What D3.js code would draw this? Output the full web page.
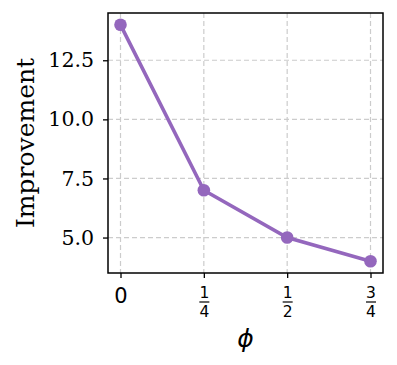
<!DOCTYPE html>
<html>
<head>
<meta charset="utf-8">
<script src="https://cdn.jsdelivr.net/npm/d3@7"></script>
<style>
  body { margin: 0; background: #fff; }
</style>
</head>
<body>
<div id="chart"></div>
<script>
// data
var phiValues = [0, 0.25, 0.5, 0.75];
var improvement = [14, 7, 5, 4];
var xTickLabels = [{num: null, den: null, txt: "0"}, {num: "1", den: "4"}, {num: "1", den: "2"}, {num: "3", den: "4"}];
var yTicks = [5.0, 7.5, 10.0, 12.5];

var width = 397, height = 365;
var margin = {top: 13, right: 14, bottom: 92, left: 108};
var innerW = width - margin.left - margin.right;
var innerH = height - margin.top - margin.bottom;

var svg = d3.select("#chart").append("svg")
    .attr("width", width)
    .attr("height", height);

var g = svg.append("g")
    .attr("transform", "translate(" + margin.left + "," + margin.top + ")");

//matplotlib style 5% margins
var xPad = 0.05 * (d3.max(phiValues) - d3.min(phiValues));
var yPad = 0.05 * (d3.max(improvement) - d3.min(improvement));
var x = d3.scaleLinear()
    .domain([d3.min(phiValues) - xPad, d3.max(phiValues) + xPad])
    .range([0, innerW]);
var y = d3.scaleLinear()
    .domain([d3.min(improvement) - yPad, d3.max(improvement) + yPad])
    .range([innerH, 0]);

// grid
g.append("g").selectAll("line").data(phiValues).enter().append("line")
    .attr("x1", d => x(d)).attr("x2", d => x(d))
    .attr("y1", 0).attr("y2", innerH)
    .attr("stroke", "#cccccc").attr("stroke-width", 1.2)
    .attr("stroke-dasharray", "5,3");
g.append("g").selectAll("line").data(yTicks).enter().append("line")
    .attr("y1", d => y(d)).attr("y2", d => y(d))
    .attr("x1", 0).attr("x2", innerW)
    .attr("stroke", "#cccccc").attr("stroke-width", 1.2)
    .attr("stroke-dasharray", "5,3");

// y axis
var yAxis = d3.axisLeft(y).tickValues(yTicks).tickFormat(d3.format(".1f"))
    .tickSize(5).tickPadding(9);
var yg = g.append("g").call(yAxis);
yg.select(".domain").remove();
yg.selectAll(".tick line").attr("stroke", "#000").attr("stroke-width", 1.3);
yg.selectAll(".tick text")
    .style("font-family", "DejaVu Serif")
    .style("font-size", "20.5px")
    .attr("fill", "#000");

// x axis, labels done by hand for the fractions
var xAxis = d3.axisBottom(x).tickValues(phiValues).tickFormat("").tickSize(5);
var xg = g.append("g").attr("transform", "translate(0," + innerH + ")").call(xAxis);
xg.select(".domain").remove();
xg.selectAll(".tick line").attr("stroke", "#000").attr("stroke-width", 1.3);

xg.selectAll(".tick").each(function(d, i){
    var t = d3.select(this);
    var lab = xTickLabels[i];
    if (lab.num == null) {
        t.append("text").attr("y", 22.5).attr("dy", "0.35em")
            .attr("text-anchor", "middle").attr("fill", "#000")
            .style("font-family", "DejaVu Sans").style("font-size", "21px")
            .text(lab.txt);
    } else {
        t.append("text").attr("y", 19.5).attr("dy", "0.35em")
            .attr("text-anchor", "middle").attr("fill", "#000")
            .style("font-family", "DejaVu Sans").style("font-size", "15.5px")
            .text(lab.num);
        t.append("line").attr("x1", -5).attr("x2", 5)
            .attr("y1", 29).attr("y2", 29)
            .attr("stroke", "#000").attr("stroke-width", 1.2);
        t.append("text").attr("y", 38.5).attr("dy", "0.35em")
            .attr("text-anchor", "middle").attr("fill", "#000")
            .style("font-family", "DejaVu Sans").style("font-size", "15.5px")
            .text(lab.den);
    }
});

// frame
g.append("rect")
    .attr("width", innerW).attr("height", innerH)
    .attr("fill", "none").attr("stroke", "#000").attr("stroke-width", 1.5);

// line + markers
var pts = phiValues.map((p, i) => ({x: p, y: improvement[i]}));
var line = d3.line().x(d => x(d.x)).y(d => y(d.y));
g.append("path").datum(pts)
    .attr("d", line)
    .attr("fill", "none")
    .attr("stroke", "#9467bd")
    .attr("stroke-width", 3.6);
g.selectAll("circle").data(pts).enter().append("circle")
    .attr("cx", d => x(d.x)).attr("cy", d => y(d.y))
    .attr("r", 6.3)
    .attr("fill", "#9467bd");

// axis titles
svg.append("text")
    .attr("transform", "translate(25," + (margin.top + innerH / 2) + ") rotate(-90)")
    .attr("text-anchor", "middle").attr("dy", "0.35em")
    .style("font-family", "DejaVu Serif").style("font-size", "25px")
    .text("Improvement");

svg.append("text")
    .attr("x", margin.left + innerW / 2).attr("y", 338)
    .attr("text-anchor", "middle").attr("dy", "0.35em")
    .style("font-family", "DejaVu Sans").style("font-style", "italic").style("font-size", "25px")
    .text("ϕ");
</script>
</body>
</html>
